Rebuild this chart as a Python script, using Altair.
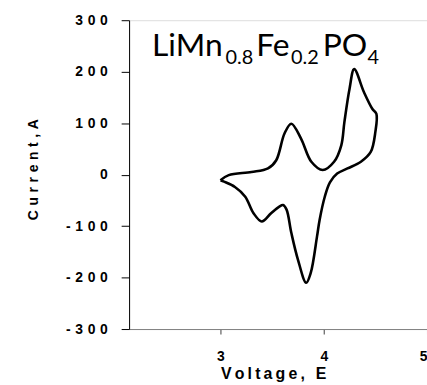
import altair as alt
import pandas as pd

# Cyclic voltammogram trace (Voltage, E vs Current, A), in drawing order
voltage = [3.00, 3.08, 3.30, 3.46, 3.54, 3.62, 3.686, 3.78, 3.88, 3.99,
           4.10, 4.17, 4.20, 4.25, 4.295, 4.39, 4.47, 4.51,
           4.50, 4.455, 4.36, 4.23, 4.13, 4.06, 4.01, 3.96, 3.935, 3.874, 3.83, 3.75, 3.686,
           3.64, 3.606, 3.57, 3.49, 3.40, 3.32, 3.24, 3.14, 3.00]
current = [-11, -1, 5, 12, 28, 80, 99, 70, 25, 9,
           25, 57, 102, 167, 205, 160, 128, 118,
           83, 44, 25, 12, 2, -15, -43, -88, -120, -191, -210, -165, -113,
           -68, -59, -62, -75, -91, -75, -43, -24, -11]

# Title with subscripts: segment text, size role, anchor position (data units)
title_text = ["LiMn", "0.8", "Fe", "0.2", "PO", "4"]
title_sub = [False, True, False, True, False, True]
title_x = [2.337, 3.048, 3.346, 3.683, 3.99, 4.423]
title_y = [230.7, 215, 230.7, 215, 230.7, 215]

y_ticks = [-300, -200, -100, 0, 100, 200, 300]
x_ticks = [3, 4, 5]

df = pd.DataFrame({"V": voltage, "I": current, "order": range(len(voltage))})
tdf = pd.DataFrame({"t": title_text, "sub": title_sub, "x": title_x, "y": title_y})

xscale = alt.Scale(domain=[2.115, 5.0], nice=False, zero=False)
yscale = alt.Scale(domain=[-300, 300], nice=False)

line = alt.Chart(df).mark_line(
    color="black", strokeWidth=2.6, interpolate="catmull-rom", strokeJoin="round"
).encode(
    x=alt.X("V:Q", scale=xscale,
            axis=alt.Axis(values=x_ticks, format="d", title="\u2009".join("Voltage, E"), grid=False,
                          domainColor="#808080", tickColor="#404040", tickSize=5,
                          labelPadding=16, labelFont="Liberation Sans", labelFontSize=14,
                          labelExpr="datum.label + '\u2004\u2004'",
                          labelFontWeight="bold", labelColor="black",
                          titleFont="Liberation Sans", titleFontSize=16, titleFontWeight="bold",
                          titleBaseline="alphabetic",
                          titleX=145, titleY=50, titleColor="black")),
    y=alt.Y("I:Q", scale=yscale,
            axis=alt.Axis(values=y_ticks, format="d", title="\u2004".join("Current,A"), grid=False,
                          domainColor="black", tickColor="black", tickSize=8,
                          labelPadding=14, labelFont="Liberation Sans", labelFontSize=14,
                          labelFontWeight="bold", labelColor="black",
                          labelExpr="join(split(replace(datum.label, '\u2212', '-'), ''), '\u2004')",
                          titleFont="Liberation Sans", titleFontSize=14, titleFontWeight="bold",
                          titleBaseline="alphabetic",
                          titleX=-92, titleY=150, titleColor="black")),
    order="order:Q",
)

big = alt.Chart(tdf).transform_filter("!datum.sub").mark_text(
    font="Lato", fontSize=32, align="left", baseline="alphabetic", color="black"
).encode(x=alt.X("x:Q", scale=xscale), y=alt.Y("y:Q", scale=yscale), text="t:N")

small = alt.Chart(tdf).transform_filter("datum.sub").mark_text(
    font="Lato", fontSize=20, align="left", baseline="alphabetic", color="black"
).encode(x=alt.X("x:Q", scale=xscale), y=alt.Y("y:Q", scale=yscale), text="t:N")

chart = alt.layer(line, big, small).properties(
    width=300, height=311,
    autosize=alt.AutoSizeParams(type="none"),
    padding={"left": 130, "top": 19, "right": 0, "bottom": 55},
).configure_view(stroke=None).configure(background="white")

chart.save("out.html", embed_options={"renderer": "svg", "actions": False})
